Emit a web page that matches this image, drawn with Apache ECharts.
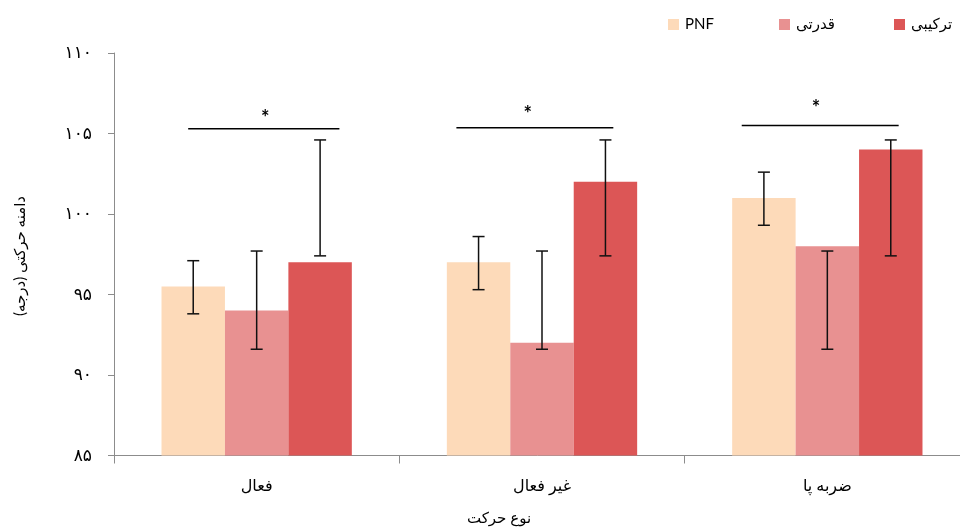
<!DOCTYPE html>
<html>
<head>
<meta charset="utf-8">
<script src="https://cdn.jsdelivr.net/npm/echarts@6/dist/echarts.min.js"></script>
<style>html,body{margin:0;padding:0;background:#fff}#c{width:960px;height:528px}</style>
</head>
<body>
<div id="c"></div>
<script>
// ---- data ----
const categories = ['فعال', 'غیر فعال', 'ضربه پا'];
const seriesNames = ['PNF', 'قدرتی', 'ترکیبی'];
const pnfValues = [95.5, 97.0, 101.0];
const strengthValues = [94.0, 92.0, 98.0];
const combinedValues = [97.0, 102.0, 104.0];
const pnfErrLow = [93.8, 95.3, 99.3];
const pnfErrHigh = [97.1, 98.6, 102.6];
const strengthErrLow = [91.6, 91.6, 91.6];
const strengthErrHigh = [97.7, 97.7, 97.7];
const combinedErrLow = [97.4, 97.4, 97.4];
const combinedErrHigh = [104.6, 104.6, 104.6];
const sigLevel = [105.3, 105.35, 105.5];
const sigFrom = [-0.24, -0.30, -0.30];
const sigTo = [0.29, 0.25, 0.25];
const starLevel = [105.95, 106.15, 106.55];
const starShift = [0.03, -0.05, -0.04];
const yTickLabels = ['۸۵', '۹۰', '۹۵', '۱۰۰', '۱۰۵', '۱۱۰'];
const yTitle = '\u200Fدامنه حرکتی (درجه)\u200F';
const xTitle = 'نوع حرکت';

const colors = ['#FDDAB9', '#E89191', '#DC5656'];
const gapRatio = 0.333;
const FONT = 'Lato, "DejaVu Sans", sans-serif';

const valueSets = [pnfValues, strengthValues, combinedValues];
const errLows = [pnfErrLow, strengthErrLow, combinedErrLow];
const errHighs = [pnfErrHigh, strengthErrHigh, combinedErrHigh];

const errData = [];
for (let s = 0; s < 3; s++) {
  for (let c = 0; c < categories.length; c++) {
    errData.push([c, s, errLows[s][c], errHighs[s][c]]);
  }
}
const sigData = categories.map((_, c) => [c, sigLevel[c], sigFrom[c], sigTo[c], starLevel[c], starShift[c]]);

const chart = echarts.init(document.getElementById('c'), null, {renderer: 'canvas'});

const barSeries = seriesNames.map((name, i) => ({
  name: name,
  type: 'bar',
  data: valueSets[i],
  itemStyle: {color: colors[i]},
  barGap: '0%',
  barCategoryGap: (gapRatio * 100) + '%',
  emphasis: {disabled: true},
  z: 2
}));

const legends = seriesNames.map((name, i) => ({
  data: [name],
  left: [663, 774, 889][i],
  top: 12,
  itemWidth: 11,
  itemHeight: 11,
  itemGap: 5,
  icon: 'rect',
  selectedMode: false,
  textStyle: {fontFamily: FONT, fontSize: 15, color: '#000', padding: [0, 0, 0, 1]}
}));

chart.setOption({
  animation: false,
  legend: legends,
  grid: {left: 114, right: -10, top: 53, bottom: 72.5, outerBoundsMode: 'none', containLabel: false},
  xAxis: {
    type: 'category',
    data: categories,
    axisLine: {lineStyle: {color: '#8c8c8c', width: 1}},
    axisTick: {show: true, length: 8, lineStyle: {color: '#8c8c8c'}},
    axisLabel: {fontFamily: FONT, fontSize: 16, color: '#000', margin: 22}
  },
  yAxis: {
    type: 'value',
    min: 85, max: 110, interval: 5,
    splitLine: {show: false},
    axisLine: {show: true, lineStyle: {color: '#8c8c8c', width: 1}},
    axisTick: {show: true, length: 6, lineStyle: {color: '#8c8c8c'}},
    axisLabel: {
      fontFamily: FONT, fontSize: 17, color: '#000', margin: 22,
      formatter: function (v) { return yTickLabels[Math.round((v - 85) / 5)]; }
    }
  },
  graphic: [
    {type: 'text', x: 499, y: 518, style: {text: xTitle, font: '15px ' + FONT, fill: '#000', align: 'center', verticalAlign: 'middle'}},
    {type: 'text', x: 20, y: 256, rotation: Math.PI / 2,
     style: {text: yTitle, font: '15px ' + FONT, fill: '#000', align: 'center', verticalAlign: 'middle'}}
  ],
  series: barSeries.concat([
    {
      type: 'custom',
      name: 'err',
      data: errData,
      encode: {x: 0, y: [2, 3]},
      z: 5,
      silent: true,
      renderItem: function (params, api) {
        const c = api.value(0), s = api.value(1), lo = api.value(2), hi = api.value(3);
        const band = api.size([1, 0])[0];
        const bw = band * (1 - gapRatio) / 3;
        const pLo = api.coord([c, lo]);
        const pHi = api.coord([c, hi]);
        const x = pLo[0] + (s - 1) * bw;
        const cap = 6;
        const st = {stroke: '#111', lineWidth: 1.5};
        return {type: 'group', children: [
          {type: 'line', shape: {x1: x, y1: pLo[1], x2: x, y2: pHi[1]}, style: st},
          {type: 'line', shape: {x1: x - cap, y1: pLo[1], x2: x + cap, y2: pLo[1]}, style: st},
          {type: 'line', shape: {x1: x - cap, y1: pHi[1], x2: x + cap, y2: pHi[1]}, style: st}
        ]};
      }
    },
    {
      type: 'custom',
      name: 'sig',
      data: sigData,
      encode: {x: 0, y: 1},
      z: 5,
      silent: true,
      renderItem: function (params, api) {
        const c = api.value(0), lvl = api.value(1), f = api.value(2), t = api.value(3), sl = api.value(4), sh = api.value(5);
        const band = api.size([1, 0])[0];
        const p = api.coord([c, lvl]);
        const ps = api.coord([c, sl]);
        return {type: 'group', children: [
          {type: 'line', shape: {x1: p[0] + f * band, y1: p[1], x2: p[0] + t * band, y2: p[1]}, style: {stroke: '#000', lineWidth: 1.5}},
          {type: 'text', x: ps[0] + sh * band, y: ps[1], style: {text: '*', font: 'bold 20px ' + FONT, fill: '#000', align: 'center', verticalAlign: 'middle'}}
        ]};
      }
    }
  ])
});
</script>
</body>
</html>
